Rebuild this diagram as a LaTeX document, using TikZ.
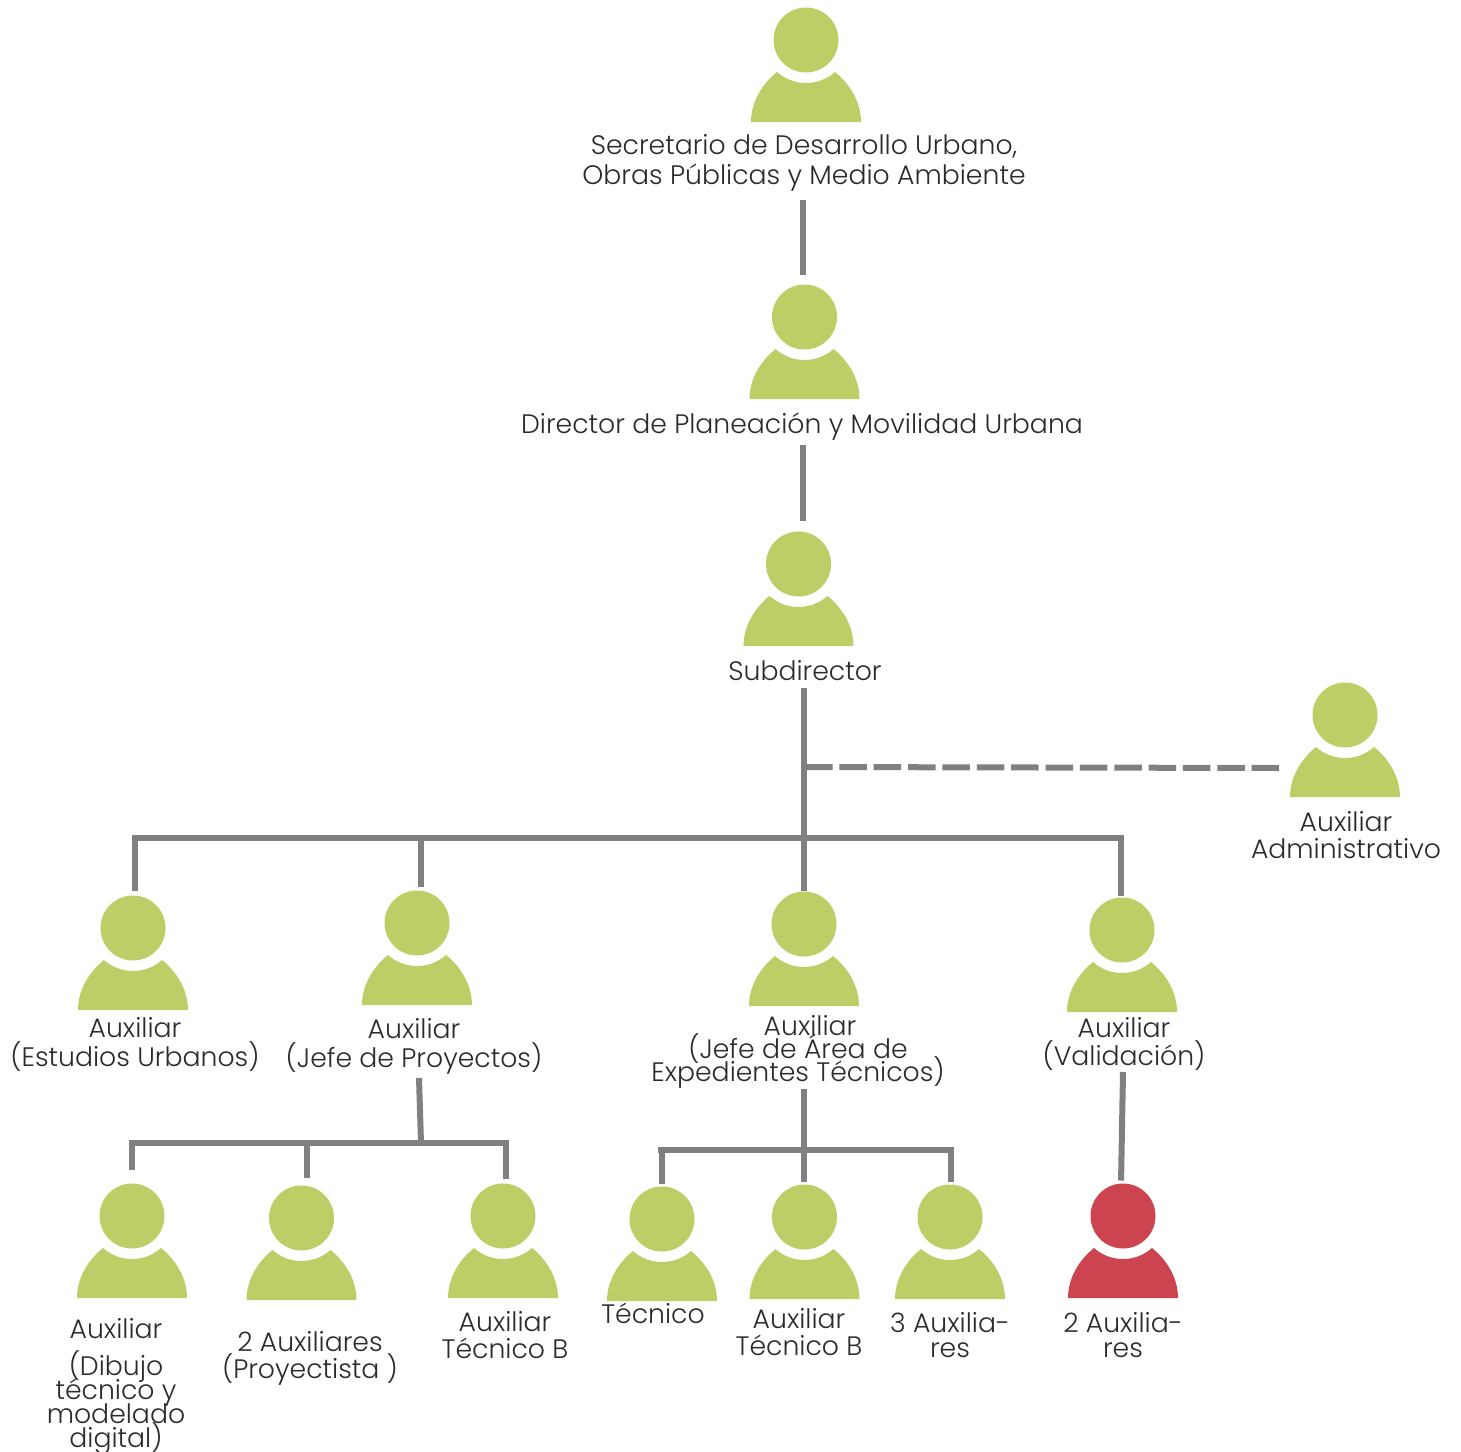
\documentclass[tikz,border=0pt]{standalone}
\usepackage{fontspec}
\setmainfont{Poppins Light}
\definecolor{pgreen}{HTML}{BCCF66}
\definecolor{pred}{HTML}{CB444F}
\definecolor{conn}{HTML}{808080}
\definecolor{txt}{HTML}{2B2B2B}
\tikzset{
  headshape/.style={circle,inner sep=0pt,outer sep=0pt,minimum size=65pt},
  lab/.style={align=center,inner sep=0pt,text=txt},
  link/.style={draw=conn,line width=6pt},
  dashlink/.style={draw=conn,line width=6pt,dash pattern=on 27.5pt off 6.86pt},
}
\newcommand{\lf}[1]{\fontsize{26.7}{#1}\selectfont\lineskiplimit=-100pt\relax}
\newcommand{\person}[4]{%
  \node[headshape,fill=#4] (#1) at (#2,#3) {};
  \fill[#4,shift={(#2,#3)}] (-55,82) .. controls (-55,62) and (-44,44) .. (-29,32)
    .. controls (-21,39) and (-11,43) .. (0,43) .. controls (11,43) and (21,39) .. (29,32)
    .. controls (44,44) and (55,62) .. (55,82) -- cycle;
}
\begin{document}
\begin{tikzpicture}[x=1pt,y=-1pt]
\useasboundingbox (0,0) rectangle (1461,1451);
% people
\person{sec}{806}{40}{pgreen}
\person{dir}{804.5}{317}{pgreen}
\person{sub}{798.5}{564}{pgreen}
\person{adm}{1345}{715}{pgreen}
\person{est}{133}{928}{pgreen}
\person{jef}{417}{923}{pgreen}
\person{exp}{804}{924}{pgreen}
\person{val}{1122}{930}{pgreen}
\person{dib}{132}{1216}{pgreen}
\person{pro}{301.5}{1218}{pgreen}
\person{tba}{503}{1216}{pgreen}
\person{tec}{662}{1219}{pgreen}
\person{tbb}{804.5}{1217}{pgreen}
\person{aux}{950}{1217}{pgreen}
\person{dos}{1123}{1216}{pred}
% labels
\node[lab,font=\lf{30}] (lsec) at (804,163) {Secretario de Desarrollo Urbano,\\Obras Públicas y Medio Ambiente};
\node[lab,font=\lf{30}] (ldir) at (802,427) {Director de Planeación y Movilidad Urbana};
\node[lab,font=\lf{30}] (lsub) at (805,671) {Subdirector};
\node[lab,font=\lf{27}] (ladm) at (1346,835.5) {Auxiliar\\Administrativo};
\node[lab,font=\lf{29}] (lest) at (135,1044) {Auxiliar\\(Estudios Urbanos)};
\node[lab,font=\lf{29}] (ljef) at (414,1046) {Auxiliar\\(Jefe de Proyectos)};
\node[lab,font=\lf{23}] (lexp) at (798,1052) {\hspace*{24pt}Auxiliar\\(Jefe de Área de\\Expedientes Técnicos)};
\node[lab,font=\lf{28}] (lval) at (1124,1044) {Auxiliar\\(Validación)};
\node[lab,font=\lf{24}] (ldib) at (116,1386.5) {Auxiliar\\[13pt](Dibujo\\técnico y\\modelado\\digital)};
\node[lab,font=\lf{27}] (lpro) at (310,1358) {2 Auxiliares\\(Proyectista )};
\node[lab,font=\lf{27}] (ltba) at (505,1335.5) {Auxiliar\\Técnico B};
\node[lab,font=\lf{27}] (ltec) at (653,1313) {Técnico};
\node[lab,font=\lf{27}] (ltbb) at (799,1332.5) {Auxiliar\\Técnico B};
\node[lab,font=\lf{25}] (laux) at (950,1335.5) {3 Auxilia-\\res};
\node[lab,font=\lf{25}] (ldos) at (1123,1335.5) {2 Auxilia-\\res};
% junctions
\coordinate (s1) at (803,200);
\coordinate (s2) at (803,445);
\coordinate (s3) at (804,688);
\coordinate (dj) at (805,767);
\coordinate (bc) at (804,837.5);
\coordinate (bl) at (135,837.5);
\coordinate (bj) at (420.5,837.5);
\coordinate (br) at (1121,837.5);
\coordinate (admend) at (1280,768);
\coordinate (s4) at (419,1078);
\coordinate (jc) at (421,1143);
\coordinate (jl) at (132,1143);
\coordinate (jm) at (307,1143);
\coordinate (jr) at (505.5,1143);
\coordinate (s5) at (804,1089);
\coordinate (el) at (662,1149.5);
\coordinate (er) at (951,1149.5);
\coordinate (s6) at (1123,1072);
% connectors
\draw[link,shorten >=10pt] (s1) -- (dir.north -| s1);
\draw[link,shorten >=11pt] (s2) -- (sub.north -| s2);
\draw[link] (s3) -- (bc);
\draw[link,shorten >=1pt] (bc) -- (exp.north);
\draw[dashlink] (dj) -- (admend);
\draw[link] ([xshift=-3pt]bl) -- ([xshift=3pt]br);
\draw[link,shorten >=5pt] (bl) -- (est.north -| bl);
\draw[link,shorten >=4pt] (bj) -- (jef.north -| bj);
\draw[link,shorten >=2pt] (br) -- (val.north -| br);
\draw[link] (s4) -- (jc);
\draw[link] ([xshift=-3pt]jl) -- ([xshift=3pt]jr);
\draw[link,shorten >=14pt] (jl) -- (dib.north -| jl);
\draw[link,shorten >=8pt] (jm) -- (pro.north -| jm);
\draw[link,shorten >=5pt] (jr) -- (tba.north -| jr);
\draw[link,shorten >=3pt] (s5) -- (tbb.north -| s5);
\draw[link] ([xshift=-4pt]el) -- ([xshift=3pt]er);
\draw[link,shorten >=3pt] (el) -- (tec.north -| el);
\draw[link,shorten >=3pt] (er) -- (aux.north -| er);
\draw[link,shorten >=3pt] (s6) -- (dos.north -| 1121,0);
\end{tikzpicture}
\end{document}
